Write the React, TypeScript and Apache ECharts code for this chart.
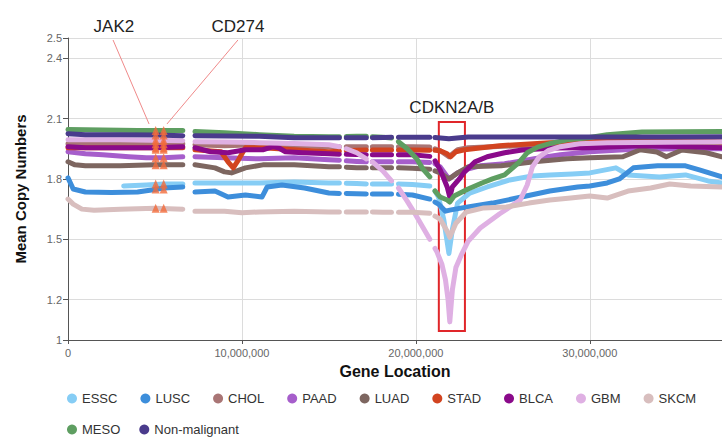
import React, { useEffect, useRef } from "react";
import * as echarts from "echarts";

// x positions are in megabases (Mb) along the chromosome; labels are shown in bp
const X_TICKS = [0, 10, 20, 30];
const Y_TICKS = [1, 1.2, 1.5, 1.8, 2.1, 2.4, 2.5];
const GAPS = [6.9, 15.8, 17.3, 18.8, 20.95];

const ESSC = [[3.2, 1.765], [4.5, 1.77], [5.5, 1.775], [6.6, 1.775], [7.3, 1.78], [9, 1.78], [11, 1.78], [13, 1.785], [15, 1.78], [15.6, 1.78], [16, 1.778], [16.6, 1.777], [17.15, 1.775], [17.5, 1.775], [18.1, 1.775], [18.6, 1.775], [19, 1.775], [19.8, 1.772], [20.8, 1.765], [21.1, 1.74], [21.3, 1.71], [21.6, 1.6], [21.9, 1.43], [22.1, 1.55], [22.4, 1.68], [23.1, 1.73], [24.1, 1.76], [25.4, 1.795], [26.7, 1.815], [27.7, 1.82], [29, 1.825], [30, 1.83], [31.5, 1.855], [32.2, 1.82], [34, 1.81], [35.5, 1.82], [36.8, 1.79], [37.6, 1.78]];
const LUSC = [[0, 1.805], [0.3, 1.75], [1, 1.735], [2.5, 1.733], [4, 1.735], [4.8, 1.745], [5.5, 1.755], [6.6, 1.76], [7.3, 1.735], [8.45, 1.74], [9.2, 1.71], [10.2, 1.72], [11.15, 1.71], [11.45, 1.76], [12.3, 1.77], [13.6, 1.755], [15, 1.73], [15.6, 1.728], [16, 1.728], [16.6, 1.726], [17.15, 1.725], [17.5, 1.725], [18.1, 1.725], [18.6, 1.725], [19, 1.724], [19.8, 1.72], [20.8, 1.7], [21.1, 1.685], [21.3, 1.675], [21.7, 1.64], [21.95, 1.645], [22.9, 1.66], [24.4, 1.68], [25.8, 1.705], [27.7, 1.74], [29.3, 1.76], [30, 1.765], [31, 1.78], [31.7, 1.8], [32.5, 1.855], [33.9, 1.865], [35.5, 1.865], [36.3, 1.845], [37.6, 1.81]];
const CHOL = [[0, 1.975], [3, 1.975], [6.6, 1.975], [7.3, 1.97], [9, 1.965], [11, 1.97], [13, 1.965], [15, 1.96], [15.6, 1.96], [16, 1.96], [16.6, 1.96], [17.15, 1.96], [17.5, 1.96], [18.1, 1.96], [18.6, 1.96], [19, 1.96], [19.8, 1.96], [20.8, 1.958], [21.1, 1.95], [21.4, 1.94], [21.9, 1.91], [22.4, 1.945], [23, 1.955], [26, 1.965], [30, 1.97], [37.6, 1.975]];
const PAAD = [[0, 1.935], [1, 1.925], [2, 1.92], [3.5, 1.91], [4.5, 1.905], [5.5, 1.905], [6.6, 1.91], [7.3, 1.91], [9, 1.905], [11, 1.9], [13, 1.905], [15, 1.895], [15.6, 1.893], [16, 1.89], [16.6, 1.887], [17.15, 1.885], [17.5, 1.885], [18.1, 1.885], [18.6, 1.885], [19, 1.885], [19.8, 1.885], [20.8, 1.882], [21.1, 1.875], [21.4, 1.86], [21.9, 1.8], [22.4, 1.83], [22.8, 1.845], [23.7, 1.865], [25.1, 1.875], [26.8, 1.9], [28.3, 1.92], [30, 1.935], [32, 1.945], [35, 1.95], [37.6, 1.95]];
const LUAD = [[0, 1.885], [0.4, 1.87], [1, 1.865], [3, 1.865], [5, 1.87], [6.6, 1.87], [7.3, 1.87], [8.45, 1.855], [9, 1.835], [9.4, 1.83], [10.2, 1.855], [11.2, 1.87], [13, 1.87], [15, 1.86], [15.6, 1.86], [16, 1.858], [16.6, 1.856], [17.15, 1.855], [17.5, 1.855], [18.1, 1.855], [18.6, 1.855], [19, 1.855], [19.8, 1.853], [20.8, 1.848], [21.1, 1.84], [21.4, 1.83], [21.9, 1.8], [22.4, 1.83], [23, 1.86], [24.9, 1.865], [26.8, 1.885], [28.7, 1.9], [30, 1.905], [31.9, 1.91], [32.9, 1.945], [33.85, 1.934], [34.4, 1.91], [35.3, 1.944], [36.7, 1.93], [37.6, 1.91]];
const STAD = [[0, 1.955], [3, 1.955], [6.6, 1.955], [7.3, 1.945], [8.8, 1.935], [9.2, 1.885], [9.5, 1.855], [9.8, 1.895], [10.2, 1.955], [11.2, 1.955], [13, 1.945], [15, 1.935], [15.6, 1.938], [16, 1.94], [16.6, 1.942], [17.15, 1.944], [17.5, 1.944], [18.1, 1.944], [18.6, 1.944], [19, 1.944], [19.8, 1.944], [20.8, 1.943], [21.1, 1.942], [21.4, 1.94], [21.8, 1.925], [22, 1.91], [22.3, 1.935], [22.8, 1.945], [24.8, 1.965], [27.7, 1.98], [30, 1.985], [32.9, 1.995], [35.7, 1.99], [37.6, 1.985]];
const BLCA = [[0, 1.96], [1, 1.955], [3, 1.955], [5, 1.955], [6.6, 1.96], [7.3, 1.955], [8.2, 1.935], [9.2, 1.93], [10.2, 1.945], [11.2, 1.945], [11.8, 1.96], [12.1, 1.955], [12.5, 1.935], [13.5, 1.93], [15, 1.925], [15.6, 1.923], [16, 1.922], [16.6, 1.921], [17.15, 1.92], [17.5, 1.92], [18.1, 1.92], [18.6, 1.92], [19, 1.92], [19.8, 1.92], [20.8, 1.912], [21.1, 1.89], [21.4, 1.845], [21.8, 1.76], [21.95, 1.71], [22.1, 1.76], [22.5, 1.8], [22.8, 1.835], [23.4, 1.885], [24.1, 1.91], [25.1, 1.93], [26.1, 1.944], [28, 1.954], [30, 1.955], [32.9, 1.965], [35.7, 1.96], [37.6, 1.955]];
const GBM = [[0, 1.995], [3, 1.994], [6.6, 1.99], [7.3, 1.985], [9, 1.984], [11, 1.98], [13, 1.976], [15, 1.97], [15.6, 1.96], [16, 1.95], [16.6, 1.93], [17.15, 1.9], [17.5, 1.885], [18.1, 1.84], [18.6, 1.79], [19, 1.755], [19.5, 1.69], [20, 1.62], [20.4, 1.56], [20.8, 1.5], [21.1, 1.455], [21.2, 1.44], [21.5, 1.375], [21.7, 1.3], [21.85, 1.2], [21.95, 1.09], [22.1, 1.25], [22.3, 1.36], [22.6, 1.42], [23, 1.49], [23.7, 1.556], [24.8, 1.626], [26, 1.695], [26.4, 1.77], [26.7, 1.86], [27.1, 1.91], [27.6, 1.94], [28.3, 1.96], [29.4, 1.975], [31, 1.98], [37.6, 1.985]];
const SKCM = [[0, 1.7], [0.3, 1.675], [0.8, 1.65], [1.5, 1.645], [3, 1.65], [5, 1.655], [6.6, 1.65], [7.3, 1.64], [9, 1.64], [10, 1.632], [11, 1.636], [13, 1.64], [15, 1.636], [15.6, 1.636], [16, 1.636], [16.6, 1.636], [17.15, 1.636], [17.5, 1.636], [18.1, 1.635], [18.6, 1.634], [19, 1.634], [19.8, 1.635], [20.8, 1.63], [21.1, 1.615], [21.4, 1.6], [21.8, 1.54], [21.95, 1.51], [22.3, 1.58], [22.9, 1.636], [23.9, 1.656], [25.2, 1.661], [26.5, 1.68], [27.7, 1.695], [28.9, 1.705], [30, 1.715], [31, 1.705], [32.2, 1.74], [33.5, 1.755], [34.6, 1.775], [35.8, 1.765], [37.6, 1.76]];
const MESO = [[0, 2.045], [2, 2.043], [4, 2.04], [6.6, 2.04], [7.3, 2.035], [9, 2.03], [11, 2.02], [13, 2.012], [15, 2.01], [15.6, 2.01], [16, 2.011], [16.6, 2.012], [17.15, 2.012], [17.5, 2.01], [18.1, 2.007], [18.6, 2.003], [19, 1.985], [19.5, 1.95], [20.05, 1.9], [20.4, 1.85], [20.8, 1.81], [21.1, 1.74], [21.4, 1.71], [21.8, 1.695], [21.95, 1.685], [22.2, 1.715], [23, 1.75], [23.8, 1.78], [24.4, 1.8], [25.1, 1.82], [25.5, 1.85], [25.9, 1.88], [26.4, 1.93], [27, 1.958], [27.8, 1.978], [28.7, 1.994], [29.9, 2.005], [31, 2.02], [33, 2.033], [37.6, 2.035]];
const NON_MALIGNANT = [[0, 2.025], [1, 2.02], [3, 2.02], [5, 2.018], [6.6, 2.015], [7.3, 2.015], [9, 2.013], [11, 2.012], [13, 2.005], [15, 2.005], [15.6, 2.005], [16, 2.005], [16.6, 2.005], [17.15, 2.005], [17.5, 2.005], [18.1, 2.006], [18.6, 2.007], [19, 2.007], [19.8, 2.007], [20.8, 2.007], [21.1, 2.006], [21.9, 2.0], [23, 2.008], [26, 2.008], [30, 2.008], [34, 2.008], [37.6, 2.01]];

const SERIES_NAMES = ["ESSC", "LUSC", "CHOL", "PAAD", "LUAD", "STAD", "BLCA", "GBM", "SKCM", "MESO", "Non-malignant"];
const SERIES_DATA = [ESSC, LUSC, CHOL, PAAD, LUAD, STAD, BLCA, GBM, SKCM, MESO, NON_MALIGNANT];
const SERIES_COLORS = ["#86cdf5", "#3d8edb", "#a97575", "#a65ecb", "#7d6660", "#d24420", "#8a0a8a", "#dfb0e3", "#d8bebe", "#5e9e61", "#4a3b8c"];

// gene markers (triangles): JAK2 and CD274 positions and copy numbers of each series there
const GENE_POS = [5.04, 5.5];
const GENE_VALUES = [2.04, 2.018, 1.992, 1.975, 1.955, 1.948, 1.905, 1.87, 1.775, 1.75, 1.655];

// annotations [label, labelAnchor, lineFrom, lineTo]
const ANNOTATIONS: [string, number[], number[], number[]][] = [
  ["JAK2", [2.64, 2.555], [2.59, 2.49], [4.66, 2.073]],
  ["CD274", [9.77, 2.555], [9.77, 2.49], [5.69, 2.073]],
];
const CDKN2A_BOX = [[21.32, 2.083], [22.82, 1.045]];

function withGaps(pts: number[][]) {
  const first = pts[0][0];
  const last = pts[pts.length - 1][0];
  const gaps = GAPS.filter((g) => g > first && g < last).map((g) => [g, null]);
  return [...pts, ...gaps].sort((a: any, b: any) => a[0] - b[0]);
}

const fmtBp = (v: number) => Math.round(v * 1e6).toLocaleString("en-US");

export default function App() {
  const ref = useRef<HTMLDivElement>(null);
  useEffect(() => {
    if (!ref.current) return;
    const chart = echarts.init(ref.current, undefined, { renderer: "svg" });
    const font = "'Liberation Sans', Arial, sans-serif";
    const lineSeries = SERIES_NAMES.map((name, i) => ({
      name,
      type: "line",
      data: withGaps(SERIES_DATA[i]),
      symbol: "none",
      connectNulls: false,
      color: SERIES_COLORS[i],
      lineStyle: { width: 5, color: SERIES_COLORS[i], cap: "round", join: "round" },
      silent: true,
      z: 2,
    }));
    const triData: number[][] = [];
    GENE_POS.forEach((x) => GENE_VALUES.forEach((v) => triData.push([x, v])));
    const markerSeries = {
      name: "genes",
      type: "scatter",
      data: triData,
      symbol: "triangle",
      symbolSize: [8, 9],
      itemStyle: { color: "#f36b3b" },
      silent: true,
      z: 5,
      markLine: {
        silent: true,
        symbol: ["none", "none"],
        label: { show: false },
        lineStyle: { color: "#f08a8a", width: 1, type: "solid" },
        data: ANNOTATIONS.map((a) => [{ coord: a[2] }, { coord: a[3] }]),
      },
      markArea: {
        silent: true,
        itemStyle: { color: "rgba(0,0,0,0)", borderColor: "#e0262a", borderWidth: 2 },
        label: { show: true, position: "top", distance: 5, formatter: "CDKN2A/B", fontSize: 17, color: "#222", fontFamily: font },
        data: [[{ coord: CDKN2A_BOX[0] }, { coord: CDKN2A_BOX[1] }]],
      },
    };
    const legendBase = {
      icon: "circle",
      itemWidth: 10,
      itemHeight: 10,
      padding: 0,
      left: 67,
      textStyle: { fontSize: 13, color: "#333", fontFamily: font },
      selectedMode: false,
    };
    chart.setOption({
      animation: false,
      textStyle: { fontFamily: font },
      grid: { left: 68, right: 0, top: 38, bottom: 98 },
      legend: [
        { ...legendBase, data: SERIES_NAMES.slice(0, 9), top: 392, itemGap: 23 },
        { ...legendBase, data: SERIES_NAMES.slice(9), top: 423, itemGap: 19 },
      ],
      xAxis: {
        type: "value",
        min: 0,
        max: 37.6,
        interval: 10,
        name: "Gene Location",
        nameLocation: "middle",
        nameGap: 23,
        nameTextStyle: { fontSize: 16, fontWeight: "bold", color: "#111" },
        axisLine: { show: true, lineStyle: { color: "#555" } },
        axisTick: { show: true, length: 4, customValues: X_TICKS, lineStyle: { color: "#555" } },
        axisLabel: { fontSize: 11, color: "#666", margin: 7, customValues: X_TICKS, formatter: (v: number) => fmtBp(v) },
        splitLine: { show: true, lineStyle: { color: "#dcdcdc" } },
      },
      yAxis: {
        type: "value",
        min: 1,
        max: 2.5,
        name: "Mean Copy Numbers",
        nameLocation: "middle",
        nameGap: 40,
        nameTextStyle: { fontSize: 15, fontWeight: "bold", color: "#111" },
        axisLine: { show: true, lineStyle: { color: "#555" } },
        axisTick: { show: true, length: 5, customValues: Y_TICKS, lineStyle: { color: "#555" } },
        axisLabel: { fontSize: 11, color: "#666", margin: 6, customValues: Y_TICKS, formatter: (v: number) => String(v) },
        splitLine: { show: true, lineStyle: { color: "#dcdcdc" } },
      },
      series: [...lineSeries, markerSeries],
    });
    const texts = ANNOTATIONS.map((a) => {
      const p = chart.convertToPixel({ gridIndex: 0 }, a[1]) as number[];
      return {
        type: "text",
        x: p[0],
        y: p[1],
        silent: true,
        style: { text: a[0], fontSize: 17, fill: "#222", fontFamily: font, align: "center", verticalAlign: "middle" },
      };
    });
    chart.setOption({ graphic: texts });
    return () => chart.dispose();
  }, []);
  return <div ref={ref} style={{ position: "absolute", left: 0, top: 0, width: 722, height: 438 }} />;
}
